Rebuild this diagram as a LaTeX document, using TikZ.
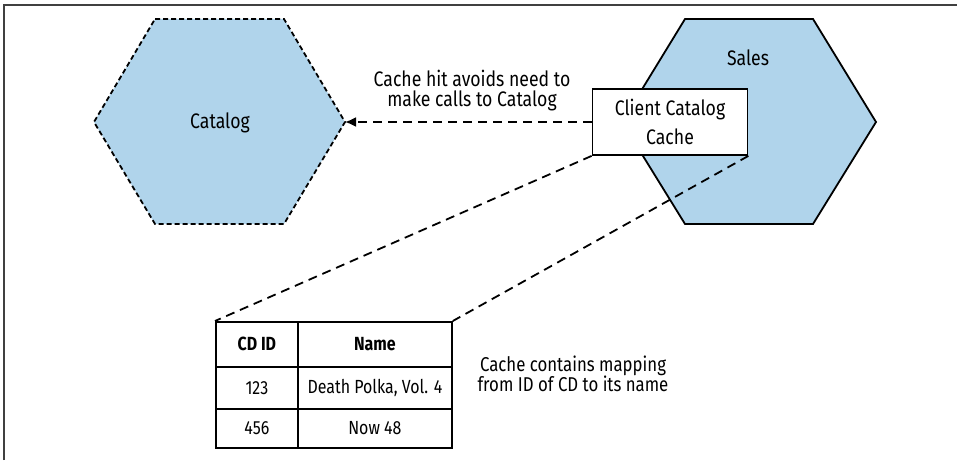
\documentclass[tikz,border=0pt]{standalone}
\usepackage{fontspec}
\setmainfont[FakeStretch=0.84]{Fira Sans}
\usepackage{tikz}
\usetikzlibrary{arrows.meta,positioning,calc}
\definecolor{hexblue}{rgb}{0.69,0.83,0.92}
\definecolor{framegray}{rgb}{0.25,0.25,0.25}

\begin{document}
\begin{tikzpicture}[x=1pt,y=-1pt,font=\fontsize{21}{20}\selectfont,
   hx/.style={fill=hexblue,line width=1.8pt},
   lnk/.style={line width=1.8pt,dash pattern=on 9pt off 6pt},
   cell/.style={draw,line width=1.8pt,anchor=north west,inner sep=0pt,align=center,
                font=\fontsize{19}{20}\selectfont}]
  \useasboundingbox (0,0) rectangle (957,460);
  \draw[framegray,line width=1.5pt] (4,460) -- (4,5) -- (957,5);
  % the two services
  \draw[hx,dash pattern=on 5pt off 3pt] (155,19) -- (284,19) -- (345,122) coordinate (catR)
     -- (284,224) -- (155,224) -- (94,122) -- cycle;
  \node (cat) at (220,123) {Catalog};
  \draw[hx,line join=miter] (685,19) -- (813,19) -- (876,122) -- (813,224) -- (685,224)
     -- (622,122) -- cycle;
  \node (sal) at (748,58) {Sales};
  \node[draw,fill=white,line width=1.8pt,minimum width=155pt,minimum height=66pt,
        align=center] (cc) at (670,122) {Client Catalog\\[8pt]Cache};
  \node[align=center] (hit) at (472,91) {Cache hit avoids need to\\make calls to Catalog};
  \draw[lnk,-{Latex[length=11pt,width=10pt]}] (cc.west) -- (catR);
  % cached table
  \node[cell,minimum width=82pt,minimum height=45pt,font=\fontsize{19}{20}\selectfont\bfseries] (h1) at (215,321) {CD ID};
  \node[cell,minimum width=154pt,minimum height=45pt,font=\fontsize{19}{20}\selectfont\bfseries] (h2) at (297,321) {Name};
  \node[cell,minimum width=82pt,minimum height=42pt] (a1) at (215,366) {123};
  \node[cell,minimum width=154pt,minimum height=42pt] (a2) at (297,366) {Death Polka, Vol. 4};
  \node[cell,minimum width=82pt,minimum height=39pt] (b1) at (215,408) {456};
  \node[cell,minimum width=154pt,minimum height=39pt] (b2) at (297,408) {Now 48};
  \draw[lnk] (cc.south west) -- (h1.north west);
  \draw[lnk] (cc.south east) -- (h2.north east);
  \node[align=center,font=\fontsize{20}{20}\selectfont] (note) at (573,374) {Cache contains mapping\\from ID of CD to its name};
\end{tikzpicture}
\end{document}
